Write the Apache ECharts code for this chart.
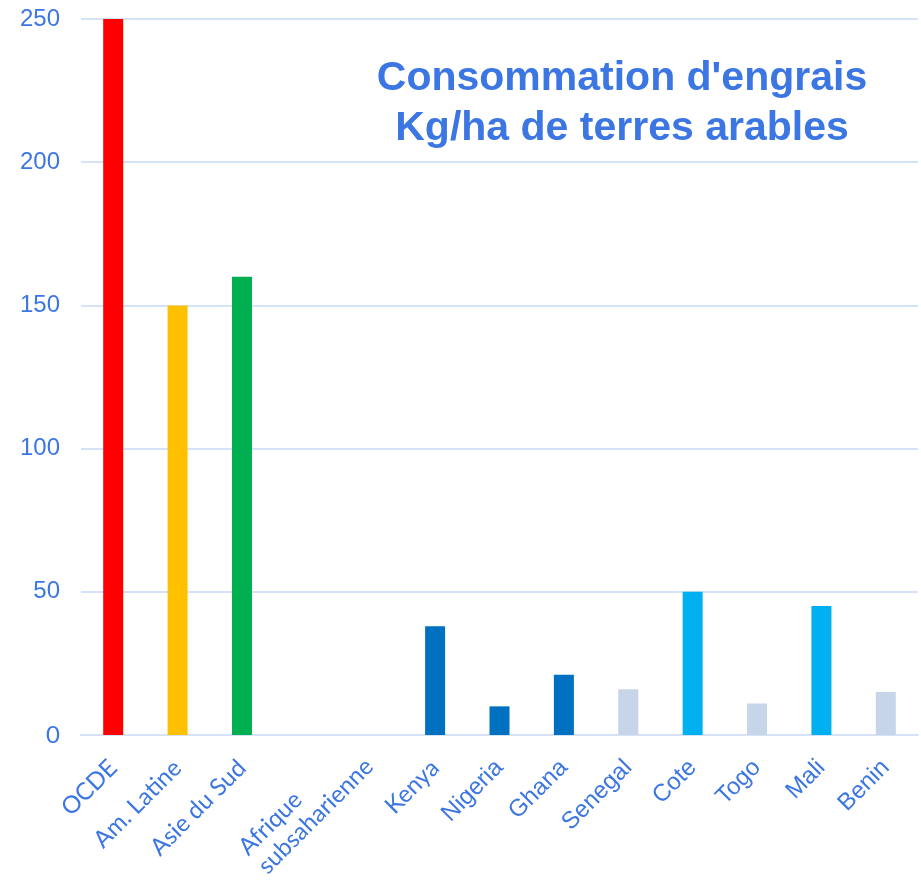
<!DOCTYPE html>
<html><head><meta charset="utf-8">
<script src="https://cdn.jsdelivr.net/npm/echarts@6/dist/echarts.min.js"></script>
<style>html,body{margin:0;padding:0;background:#fff}#c{width:921px;height:887px}</style>
</head><body><div id="c"></div>
<script>
const categories = ['OCDE','Am. Latine','Asie du Sud','','Afrique\nsubsaharienne','Kenya','Nigeria','Ghana','Senegal','Cote','Togo','Mali','Benin'];
const values = [250,150,160,null,null,38,10,21,16,50,11,45,15];
const barColors = ['#FF0000','#FFC000','#00B050','#0070C0','#0070C0','#0070C0','#0070C0','#0070C0','#C6D5E8','#00B0F0','#C6D5E8','#00B0F0','#C6D5E8'];
const yTicks = [0,50,100,150,200,250];
const titleLines = ["Consommation d'engrais","Kg/ha de terres arables"];
// first labels were set in a humanist face in the original
const humanistCount = 6;

const blue = '#3B76E3';
const font = '"Liberation Sans", Arial, sans-serif';
const hfont = 'Lato, "Open Sans", sans-serif';
const ctx = document.createElement('canvas').getContext('2d');
ctx.font = '24px Lato';
const subW = Math.ceil(ctx.measureText('subsaharienne').width);

const chart = echarts.init(document.getElementById('c'));
chart.setOption({
  animation:false,
  title:{text:titleLines.join('\n'), left:617, top:49, textAlign:'center',
    textStyle:{color:blue, fontFamily:font, fontWeight:'bold', fontSize:41, lineHeight:50}},
  grid:{left:81, right:3, top:19, bottom:152, containLabel:false, outerBoundsMode:'none'},
  xAxis:{type:'category', data:categories,
    axisLine:{lineStyle:{color:'#D6E2F7', width:2}}, axisTick:{show:false},
    axisLabel:{rotate:45, interval:0, margin:29, color:blue, fontFamily:font, fontSize:24,
      formatter:function(v, i){
        if(v.indexOf('\n')>=0){const p=v.split('\n'); return '{ha|'+p[0]+'}\n{h|'+p[1]+'}\n{sp| }';}
        return (i<humanistCount?'{h|':'{r|')+v+'}';
      },
      rich:{ha:{fontFamily:hfont,fontSize:24,color:blue,width:subW,align:'left',lineHeight:27},
            h:{fontFamily:hfont,fontSize:24,color:blue,lineHeight:27},
            sp:{fontSize:10,lineHeight:31},
            r:{fontFamily:font,fontSize:24,color:blue,lineHeight:27}}}},
  yAxis:{type:'value', min:0, max:250, interval:50,
    axisLabel:{color:blue, fontFamily:font, fontSize:24, margin:21,
      formatter:function(v){ if(yTicks.indexOf(v)<0) return ''; return v===0?'{h|0}':String(v);},
      rich:{h:{fontFamily:hfont,fontSize:24,color:blue}}},
    splitLine:{lineStyle:{color:'#D6E2F7', width:2}}, axisLine:{show:false}},
  series:[{type:'bar', barWidth:20,
    data:values.map((v,i)=>({value:v, itemStyle:{color:barColors[i]}}))}]
});
</script></body></html>
